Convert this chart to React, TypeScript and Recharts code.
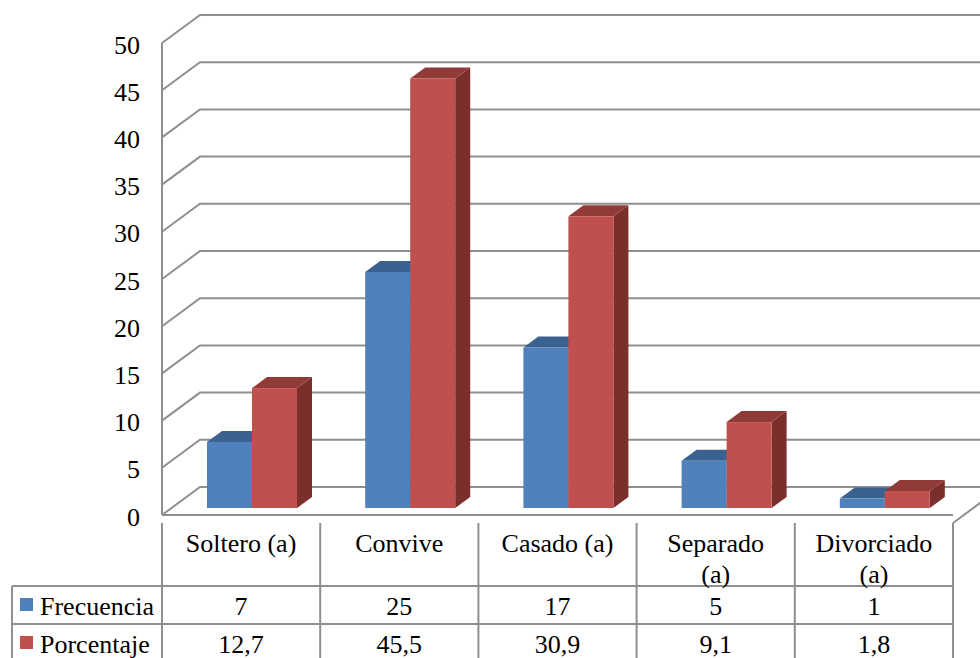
import { Bar, BarChart, CartesianGrid, XAxis, YAxis } from "recharts";

const categories = ["Soltero (a)", "Convive", "Casado (a)", "Separado\n(a)", "Divorciado\n(a)"];
const frecuencia = [7, 25, 17, 5, 1];
const porcentaje = [12.7, 45.5, 30.9, 9.1, 1.8];
const yTicks = [0, 5, 10, 15, 20, 25, 30, 35, 40, 45, 50];

const data = categories.map((name, i) => ({
  name,
  Frecuencia: frecuencia[i],
  Porcentaje: porcentaje[i],
}));

const W = 980;
const H = 658;
const FONT = "'Times New Roman', 'Liberation Serif', 'DejaVu Serif', serif";
const GRID = "#8f8f8f";
// wall depth (gridlines) and bar depth / offset into the floor
const WALL_DX = 38;
const WALL_DY = 28;
const BAR_SHIFT_X = 11;
const BAR_SHIFT_Y = 7;
const BAR_DX = 15;
const BAR_DY = 11;

const fmt = (v: number) => String(v).replace(".", ",");
const textStyle = { fontFamily: FONT, fontSize: 26 };

function GridLine(props: any) {
  const { x1, y1 } = props;
  return (
    <path
      key={`g-${y1}`}
      d={`M${x1},${y1} L${x1 + WALL_DX},${y1 - WALL_DY} L${W},${y1 - WALL_DY}`}
      fill="none"
      stroke={GRID}
      strokeWidth={2}
    />
  );
}

function makeBar3D(front: string, top: string, side: string) {
  return (props: any) => {
    const { x, y, width, height } = props;
    if (height == null || width == null) return <g />;
    const fx = x + BAR_SHIFT_X;
    const fy = y - BAR_SHIFT_Y;
    const fb = fy + height;
    return (
      <g>
        <path
          d={`M${fx + width},${fy} L${fx + width + BAR_DX},${fy - BAR_DY} L${fx + width + BAR_DX},${fb - BAR_DY} L${fx + width},${fb} Z`}
          fill={side}
        />
        <path
          d={`M${fx},${fy} L${fx + BAR_DX},${fy - BAR_DY} L${fx + width + BAR_DX},${fy - BAR_DY} L${fx + width},${fy} Z`}
          fill={top}
        />
        <rect x={fx} y={fy} width={width} height={height} fill={front} />
      </g>
    );
  };
}

const BlueBar = makeBar3D("#4f81bd", "#3b6190", "#34577f");
const RedBar = makeBar3D("#c0504d", "#913b39", "#7b2f2d");

function YTick(props: any) {
  const { y, payload } = props;
  return (
    <text x={140} y={y + 2} textAnchor="end" dominantBaseline="central" fontFamily={FONT} style={textStyle} fill="#000">
      {payload.value}
    </text>
  );
}

// each x tick draws one column of the data table under the chart
function TableColumn(props: any) {
  const { x, y, payload, index } = props;
  const band = 791 / categories.length;
  const left = x - band / 2;
  const right = x + band / 2;
  const top = y;
  const headBottom = 586;
  const row1Bottom = 624;
  const bottom = H + 2;
  const lines = String(payload.value).split("\n");
  const last = index === categories.length - 1;
  const txt = {
    style: textStyle,
    fontFamily: FONT,
    fill: "#000",
    textAnchor: "middle" as const,
    dominantBaseline: "central" as const,
  };
  return (
    <g>
      {index === 0 && (
        <g>
          <line x1={12} y1={headBottom} x2={left} y2={headBottom} stroke={GRID} strokeWidth={2} />
          <line x1={12} y1={row1Bottom} x2={left} y2={row1Bottom} stroke={GRID} strokeWidth={2} />
          <line x1={12} y1={headBottom} x2={12} y2={bottom} stroke={GRID} strokeWidth={2} />
          <line x1={left} y1={top} x2={left} y2={bottom} stroke={GRID} strokeWidth={2} />
          <rect x={20} y={598} width={13} height={13} fill="#4f81bd" />
          <text x={40} y={606} style={textStyle} fontFamily={FONT} fill="#000" dominantBaseline="central">
            Frecuencia
          </text>
          <rect x={20} y={636} width={13} height={13} fill="#c0504d" />
          <text x={40} y={644} style={textStyle} fontFamily={FONT} fill="#000" dominantBaseline="central">
            Porcentaje
          </text>
        </g>
      )}
      <line x1={left} y1={headBottom} x2={right} y2={headBottom} stroke={GRID} strokeWidth={2} />
      <line x1={left} y1={row1Bottom} x2={right} y2={row1Bottom} stroke={GRID} strokeWidth={2} />
      <line x1={right} y1={top} x2={right} y2={bottom} stroke={GRID} strokeWidth={2} />
      {last && (
        <line x1={right} y1={top} x2={right + WALL_DX} y2={top - WALL_DY} stroke={GRID} strokeWidth={2} />
      )}
      {lines.map((l, i) => (
        <text key={i} x={x} y={543 + i * 31} {...txt}>
          {l}
        </text>
      ))}
      <text x={x} y={606} {...txt}>
        {fmt(frecuencia[index])}
      </text>
      <text x={x} y={644} {...txt}>
        {fmt(porcentaje[index])}
      </text>
    </g>
  );
}

export default function App() {
  return (
    <div
      style={{
        position: "absolute",
        left: 0,
        top: 0,
        width: W,
        height: H,
        background: "#fff",
        fontFamily: FONT,
      }}
    >
      <BarChart
        width={W}
        height={H}
        data={data}
        margin={{ top: 43, right: 27, bottom: 0, left: 0 }}
        barGap={0}
        barSize={45}
      >
        <CartesianGrid vertical={false} horizontal={GridLine} />
        <YAxis
          domain={[0, 50]}
          ticks={yTicks}
          width={162}
          tickLine={false}
          axisLine={{ stroke: GRID, strokeWidth: 2 }}
          tick={YTick}
          interval={0}
        />
        <XAxis
          dataKey="name"
          tickLine={false}
          axisLine={{ stroke: GRID, strokeWidth: 2 }}
          tick={TableColumn}
          interval={0}
          height={143}
        />
        <Bar dataKey="Frecuencia" isAnimationActive={false} shape={BlueBar} />
        <Bar dataKey="Porcentaje" isAnimationActive={false} shape={RedBar} />
      </BarChart>
    </div>
  );
}
